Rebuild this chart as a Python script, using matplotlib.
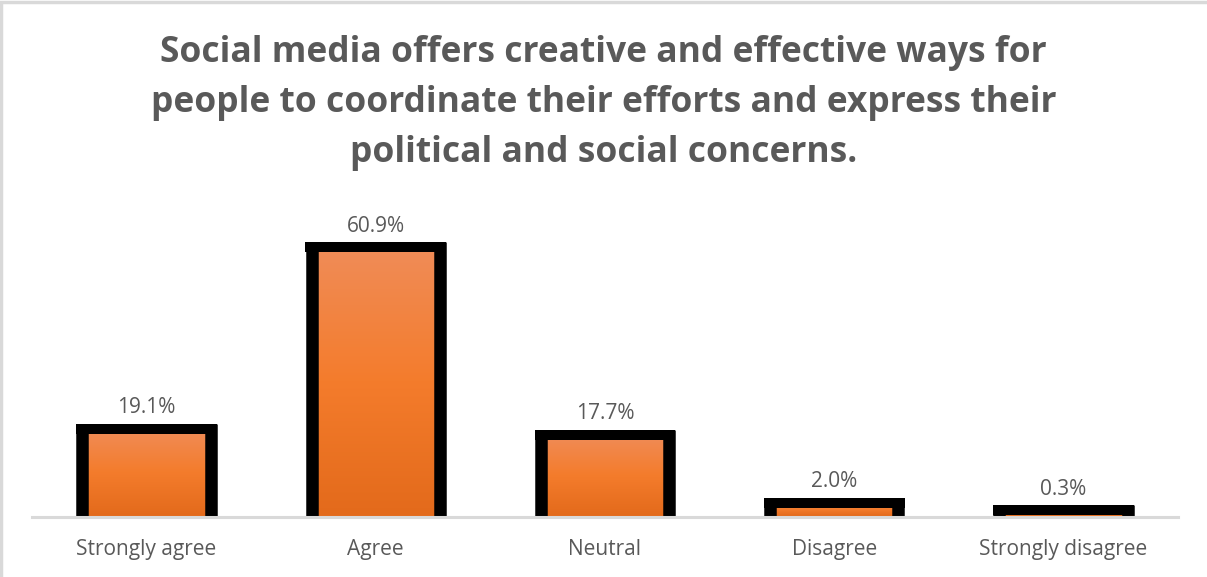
import numpy as np
import matplotlib
matplotlib.use("Agg")
import matplotlib.pyplot as plt
from matplotlib.colors import LinearSegmentedColormap
from matplotlib.patches import Rectangle

categories = ["Strongly agree", "Agree", "Neutral", "Disagree", "Strongly disagree"]
values = [19.1, 60.9, 17.7, 2.0, 0.3]
labels = ["19.1%", "60.9%", "17.7%", "2.0%", "0.3%"]
title = ("Social media offers creative and effective ways for\n"
         "people to coordinate their efforts and express their\n"
         "political and social concerns.")

text_color = "#595959"
plt.rcParams["font.family"] = ["Open Sans", "DejaVu Sans"]

W, H = 1207, 577
DPI = 100
fig = plt.figure(figsize=(W / DPI, H / DPI), dpi=DPI)
ax_left, ax_bottom, ax_w, ax_h = 32, 516.5, 1146, 317   # pixels
ax = fig.add_axes([ax_left / W, (H - ax_bottom) / H, ax_w / W, ax_h / H])

x = np.arange(len(categories))
bar_w = 0.56
ylo, yhi = -1.15, 71.9
ax.set_xlim(-0.5, len(categories) - 0.5)
ax.set_ylim(ylo, yhi)

# outline thickness in pixels: slightly heavier on the sides than on the top
side_px, top_px = 12.5, 10.0
px_per_x = ax_w / len(categories)
px_per_y = ax_h / (yhi - ylo)
side_half = side_px / 2 / px_per_x
top_half = top_px / 2 / px_per_y

grad = LinearSegmentedColormap.from_list(
    "bar_grad", ["#E36A1B", "#F47C2C", "#F08C58"])
gradient = np.linspace(0, 1, 256).reshape(-1, 1)

bars = ax.bar(x, values, width=bar_w, facecolor="none", edgecolor="none", zorder=3)
for b in bars:
    x0, w, h = b.get_x(), b.get_width(), b.get_height()
    x1 = x0 + w
    im = ax.imshow(gradient, cmap=grad, origin="lower", aspect="auto",
                   extent=[x0, x1, ylo, h], zorder=2, interpolation="bicubic")
    im.set_clip_path(Rectangle((x0, ylo), w, h - ylo, transform=ax.transData))
    for xs in (x0, x1):
        ax.plot([xs, xs], [ylo, h + top_half], color="black",
                linewidth=side_px * 72 / DPI, solid_capstyle="butt", zorder=3)
    ax.plot([x0 - side_half, x1 + side_half], [h, h], color="black",
            linewidth=top_px * 72 / DPI, solid_capstyle="butt", zorder=3)

for xi, v, lab in zip(x, values, labels):
    ax.annotate(lab, (xi, v), xytext=(0, 7.5), textcoords="offset points",
                ha="center", va="bottom", fontsize=15, color=text_color)

for s in ["top", "right", "left"]:
    ax.spines[s].set_visible(False)
ax.spines["bottom"].set_color("#D9D9D9")
ax.spines["bottom"].set_linewidth(2.2)
ax.spines["bottom"].set_zorder(4)
ax.set_yticks([])
ax.set_xticks(x)
ax.set_xticklabels(categories, fontsize=15, color=text_color)
ax.tick_params(axis="x", length=0, pad=16)

fig.text(0.5, 1 - 103 / H, title, ha="center", va="center",
         fontsize=25.5, fontweight="bold", color=text_color,
         linespacing=1.52)

fig.patches.append(Rectangle((0.5 / W, -0.01), 1.2, 1 - 2 / H + 0.01,
                             transform=fig.transFigure, fill=False,
                             edgecolor="#D9D9D9", linewidth=2.5))

fig.savefig("out.png", dpi=DPI)
